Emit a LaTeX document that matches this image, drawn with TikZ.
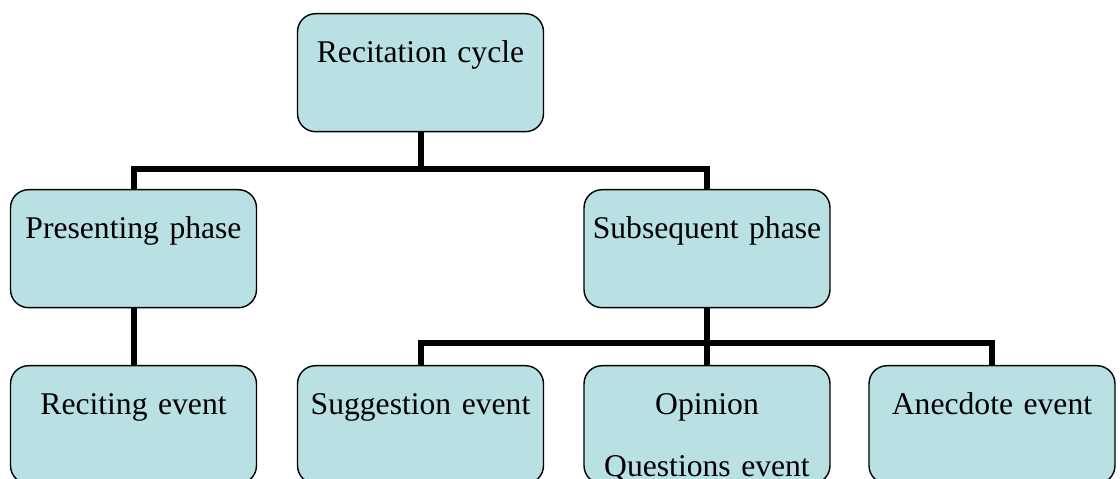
\documentclass[tikz,border=0pt]{standalone}
\usepackage{fontspec}
\setmainfont{Liberation Serif}
\usetikzlibrary{arrows.meta}
\definecolor{boxfill}{RGB}{185,224,227}

\begin{document}
\begin{tikzpicture}[x=0.02cm,y=-0.02cm,
	box/.style={draw,line width=0.8pt,fill=boxfill,rounded corners=0.36cm,inner sep=0pt,anchor=north,
		text width=4.92cm,align=center,text height=0.98cm,text depth=1.38cm,font=\fontsize{18}{35}\selectfont},
	link/.style={line width=0.12cm,line join=miter}]
	\useasboundingbox (0,0) rectangle (1120,479);
	\clip (0,0) rectangle (1120,479);
	\node[box](cycle) at (420.5,13) {Recitation cycle};
	\node[box](presenting) at (133.5,189) {Presenting phase};
	\node[box](subsequent) at (707,189) {Subsequent phase};
	\node[box](reciting) at (133.5,365) {Reciting event};
	\node[box](suggestion) at (420.5,365) {Suggestion event};
	\node[box](opinion) at (707,365) {Opinion\\Questions event};
	\node[box](anecdote) at (992,365) {Anecdote event};
	\coordinate (bar1) at (420.5,169);
	\coordinate (bar2) at (707,343);
	\draw[link] (cycle.south)--(bar1);
	\draw[link] (presenting.north) |- (bar1) -| (subsequent.north);
	\draw[link] (presenting.south)--(reciting.north);
	\draw[link] (subsequent.south)--(bar2);
	\draw[link] (suggestion.north) |- (bar2) -| (anecdote.north);
	\draw[link] (bar2)--(opinion.north);
	\end{tikzpicture}
\end{document}
